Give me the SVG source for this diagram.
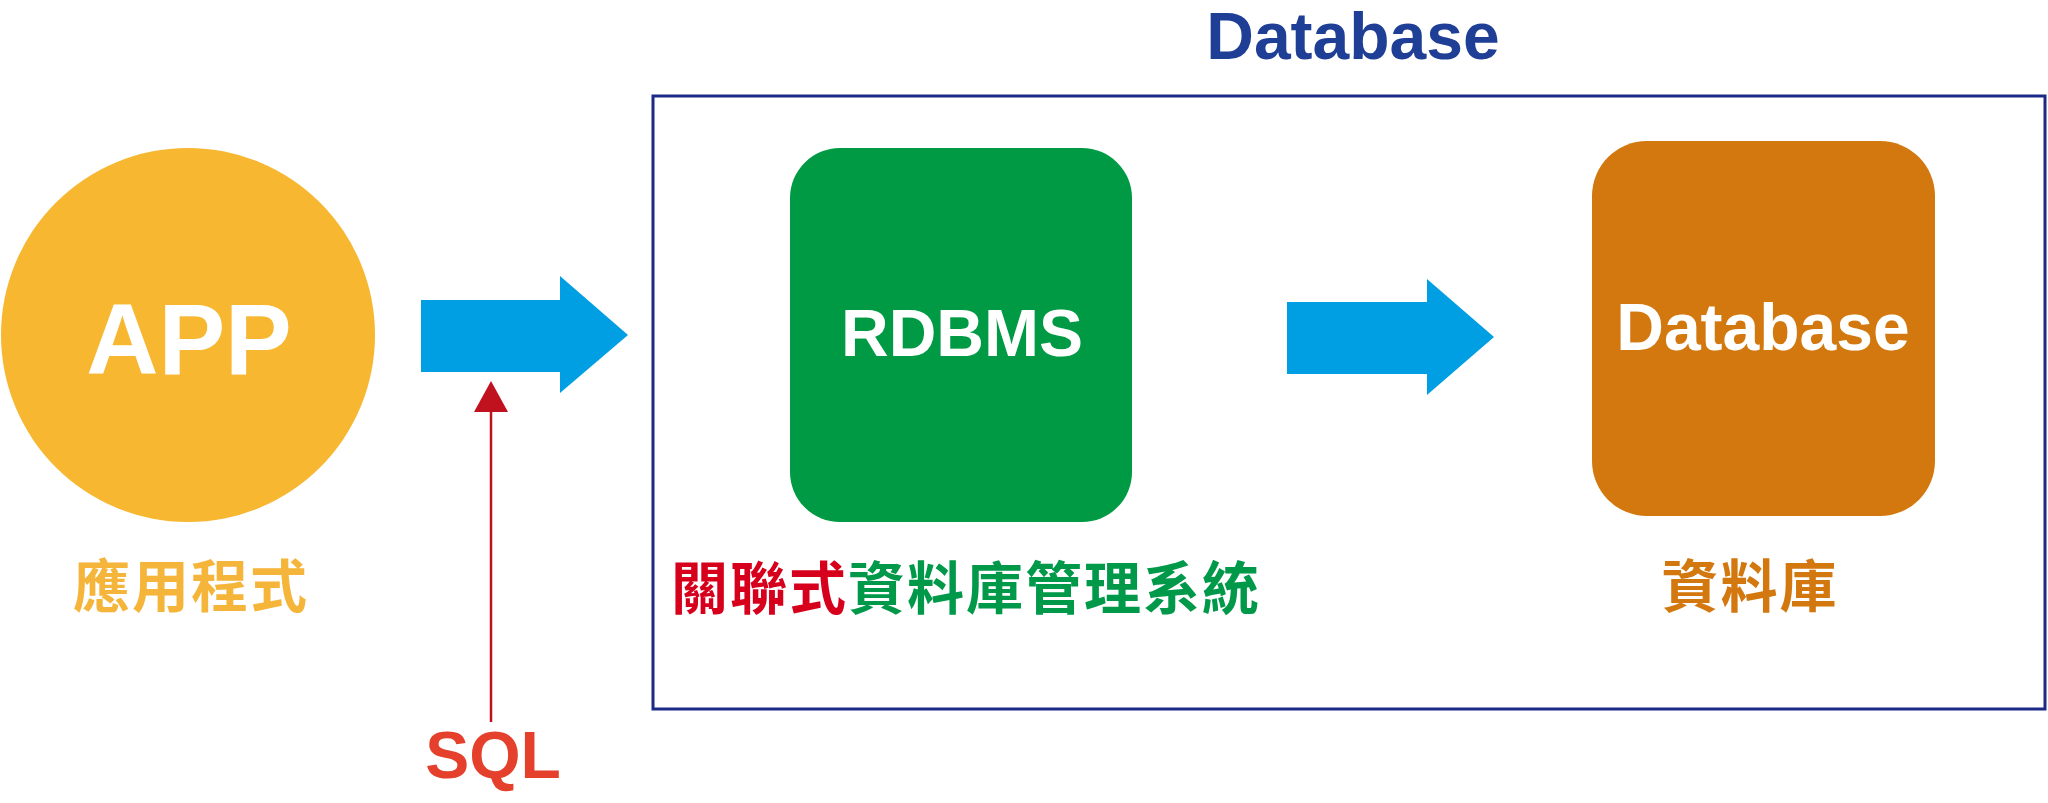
<svg xmlns="http://www.w3.org/2000/svg" width="2048" height="803" viewBox="0 0 2048 803">
<style>
.lat{font-family:"Liberation Sans",Arial,sans-serif;font-weight:700}
.cjk{font-family:"Noto Sans CJK TC","Noto Sans CJK SC",sans-serif;font-weight:700;font-size:57px;letter-spacing:2px}
.w{fill:#ffffff}
.big{font-size:66px}
.blue{fill:#009fe3}
</style>
<rect width="2048" height="803" fill="#ffffff"/>
<text class="lat" x="1353" y="59" font-size="66" fill="#1f3f96" text-anchor="middle">Database</text>
<g id="frame"><rect x="653" y="96" width="1392" height="613" fill="none" stroke="#1c2a87" stroke-width="3"/></g>
<g id="app">
<circle cx="188" cy="335" r="187" fill="#f7b731"/>
<text class="lat w" x="189" y="374" font-size="100" text-anchor="middle">APP</text>
<text class="cjk" x="191" y="607" fill="#f5b53a" text-anchor="middle">應用程式</text>
</g>
<g id="rdbms">
<rect x="790" y="148" width="342" height="374" rx="50" fill="#009a44"/>
<text class="lat w big" x="962" y="356" text-anchor="middle">RDBMS</text>
<text class="cjk" x="671" y="609"><tspan fill="#d7001c">關聯式</tspan><tspan fill="#00994a">資料庫管理系統</tspan></text>
</g>
<g id="database">
<rect x="1592" y="141" width="343" height="375" rx="55" fill="#d3780f"/>
<text class="lat w big" x="1763" y="350" text-anchor="middle">Database</text>
<text class="cjk" x="1750" y="607" fill="#d3780f" text-anchor="middle">資料庫</text>
</g>
<g id="connectors">
<polygon class="blue" points="421,300 560,300 560,276 628,335 560,393 560,372 421,372"/>
<polygon class="blue" points="1287,302 1427,302 1427,279 1494,337 1427,395 1427,374 1287,374"/>
<line x1="491" y1="722" x2="491" y2="408" stroke="#c0111f" stroke-width="2.5"/>
<polygon points="491,381 474,412 508,412" fill="#c0111f"/>
</g>
<g id="sql"><text class="lat" x="493" y="778" font-size="66" fill="#e5402b" text-anchor="middle">SQL</text></g>
</svg>
